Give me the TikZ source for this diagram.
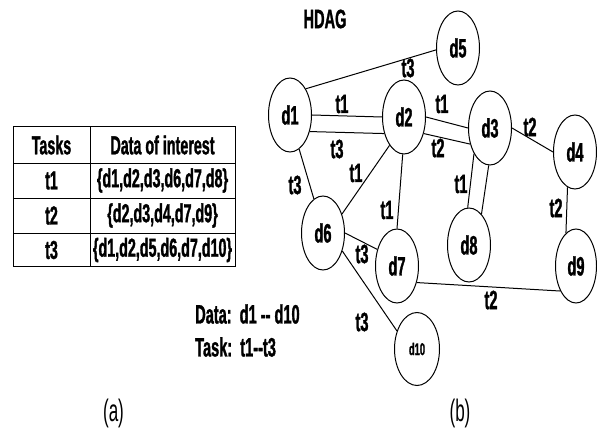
\documentclass[tikz,border=0pt]{standalone}
\usepackage{fontspec}
\setmainfont{Liberation Sans}[FakeStretch=0.55,BoldFeatures={FakeBold=1.2}]
\usetikzlibrary{shapes.geometric}
\begin{document}
\begin{tikzpicture}[x=1pt,y=-1pt,
  dnode/.style={ellipse,draw,line width=1pt,minimum width=43pt,minimum height=74pt,inner sep=0pt,font=\fontsize{26.5}{30}\selectfont\bfseries},
  edge/.style={line width=1pt},
  lab/.style={inner sep=0pt,font=\fontsize{26.5}{30}\selectfont\bfseries},
  tcell/.style={inner sep=0pt,font=\fontsize{26}{30}\selectfont\bfseries},
  captxt/.style={inner sep=0pt,font=\fontsize{31}{36}\selectfont}]
\useasboundingbox (0,0) rectangle (597,430);
% table
\draw[line width=1pt] (13,127) rectangle (235,267);
\draw[line width=0.8pt] (90,127) -- (90,267);
\draw[line width=0.8pt] (13,163) -- (235,163);
\draw[line width=0.8pt] (13,198) -- (235,198);
\draw[line width=0.8pt] (13,233) -- (235,233);
\node[tcell] (h1) at (51.5,145) {Tasks};
\node[tcell] (h2) at (162.5,145) {Data of interest};
\node[tcell] (r1a) at (51.5,180.5) {t1};
\node[tcell] (r1b) at (162.5,180.5) {\{d1,d2,d3,d6,d7,d8\}};
\node[tcell] (r2a) at (51.5,215.5) {t2};
\node[tcell] (r2b) at (162.5,215.5) {\{d2,d3,d4,d7,d9\}};
\node[tcell] (r3a) at (51.5,250) {t3};
\node[tcell] (r3b) at (162.5,250) {\{d1,d2,d5,d6,d7,d10\}};
% legend
\node[lab,anchor=west] (data) at (195,314) {Data:\ \ d1 -{}- d10};
\node[lab,anchor=west] (task) at (195,347) {Task:\ \ t1-{}-t3};
\node[captxt] (capa) at (113.5,413) {(a)};
\node[captxt] (capb) at (460,413) {(b)};
\node[lab] (hdag) at (325,19) {HDAG};
% nodes
\node[dnode] (d1) at (290,115) {d1};
\node[dnode] (d2) at (404,117) {d2};
\node[dnode] (d3) at (490,128) {d3};
\node[dnode] (d4) at (575,152) {d4};
\node[dnode] (d5) at (458,48) {d5};
\node[dnode] (d6) at (323,233) {d6};
\node[dnode] (d7) at (397,266) {d7};
\node[dnode] (d8) at (469,245) {d8};
\node[dnode,minimum width=41pt] (d9) at (576,266) {d9};
\node[dnode,minimum width=45pt,minimum height=73pt,font=\fontsize{17}{20}\selectfont\bfseries] (d10) at (417,349) {d10};
% edges
\draw[edge] (d1.59) -- (d5.185);
\draw[edge] (d1.0) -- (d2.180);
\draw[edge] (d1.-40) -- (d2.-140);
\draw[edge] (d2.0) -- (d3.180);
\draw[edge] (d2.-40) -- (d3.-141);
\draw[edge] (d3.0) -- (d4.180);
\draw[edge] (d1.-75) -- (d6.105);
\draw[edge] (d2.-117) -- (d6.45);
\draw[edge] (d2.-92) -- (d7.90);
\draw[edge] (d3.-122) -- (d8.92);
\draw[edge] (d3.-92) -- (d8.68);
\draw[edge] (d4.-102) -- (d9.107);
\draw[edge] (d6.0) -- (d7.140);
\draw[edge] (d6.-43) -- (d10.138);
\draw[edge] (d7.-40) -- (d9.-122);
% edge labels
\node[lab] (l15) at (408,68) {t3};
\node[lab] (l12a) at (342,104) {t1};
\node[lab] (l12b) at (337,149) {t3};
\node[lab] (l23a) at (442,104) {t1};
\node[lab] (l23b) at (438,148) {t2};
\node[lab] (l34) at (530,127) {t2};
\node[lab] (l16) at (295,185) {t3};
\node[lab] (l26) at (356,173) {t1};
\node[lab] (l27) at (387,210) {t1};
\node[lab] (l38) at (461,184) {t1};
\node[lab] (l49) at (556,208) {t2};
\node[lab] (l67) at (362,254) {t3};
\node[lab] (l610) at (362,322) {t3};
\node[lab] (l79) at (491,300) {t2};
\end{tikzpicture}
\end{document}
